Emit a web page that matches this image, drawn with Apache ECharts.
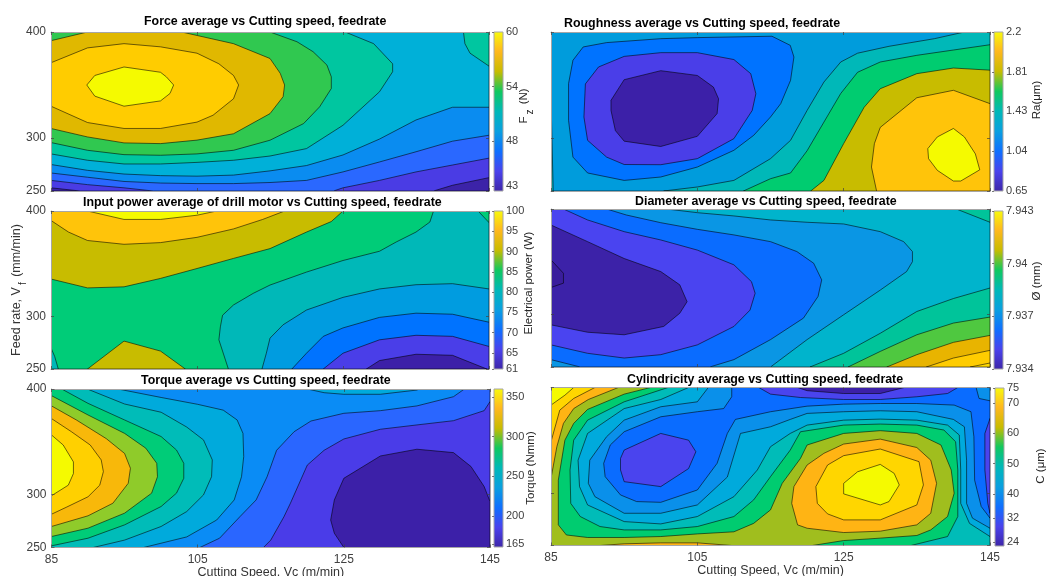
<!DOCTYPE html>
<html>
<head>
<meta charset="utf-8">
<title>Cutting speed, feedrate contours</title>
<script src="https://cdn.jsdelivr.net/npm/echarts@6/dist/echarts.min.js"></script>
<style>
  html, body { margin: 0; padding: 0; background: #fff; }
  #main { width: 1046px; height: 576px; }
</style>
</head>
<body>
<div id="main"></div>
<script>
// every contour is [band index, [[cutting speed, feed rate], ...]], painted in order
var speed_ticks = [85, 105, 125, 145];
var feed_ticks = [250, 300, 400];

var force_ticks = [43, 48, 54, 60];
var force_range = [42.5, 60];
var force_contours = [
  [0, [[85,250],[145,250],[145,400],[85,400]]],
  [1, [[85,253],[89,250],[137.4,250],[140,255.4],[145,262.6],[145,400],[85,400]]],
  [2, [[85,260],[90,256],[95,253],[99,250],[123.7,250],[125,253],[130,260],[135,268],[140,274.5],[145,281],[145,400],[85,400]]],
  [3, [[85,267],[90,263],[95,259],[100,257.5],[105,257],[110,257],[115,258],[120,260],[125,268],[130,277.4],[135,287],[140,297],[145,302.6],[145,400],[85,400]]],
  [4, [[85,275],[90,269.5],[95,266],[100,264.5],[105,264],[110,265],[115,269],[120,274],[125,284],[130,299],[135,317],[140,329],[145,329],[145,400],[85,400]]],
  [5, [[85,285],[90,279],[95,275.5],[100,275.5],[105,277],[110,279],[115,283],[120,290],[125,312],[130,343.6],[131.8,362.5],[131.8,370],[129.2,389],[125.3,400],[85,400]]],
  [5, [[141.5,400],[141.7,389],[142.4,380],[145,367.8],[145,400]]],
  [6, [[85,295.7],[90,288.4],[95,284.3],[100,283.7],[105,285],[110,288.4],[115,297.9],[119.6,313.6],[121.8,329.4],[123.4,346.7],[123.4,357.7],[122.8,368.8],[120.9,381.4],[118.7,390.8],[115,400],[85,400]]],
  [7, [[85,391.8],[90,400],[102.9,400],[110,389],[115,375],[116.4,361],[117,350],[116.8,339],[115,323],[110,304],[105,298],[100,294.7],[95,295.4],[90,301],[85,309]]],
  [8, [[85,371],[90,385],[95,389],[100,386],[105,380],[108,370],[110,359],[110.7,350],[110,337],[107.2,321.5],[105,315],[100,309],[95,309],[90,314.6],[85,330]]],
  [9, [[89.9,350],[91,359],[95,367],[100,362],[100.8,357.7],[101.8,350],[101.3,342],[100,335],[95,330],[91,339.5]]]
];

var rough_ticks = [0.65, 1.04, 1.43, 1.81, 2.2];
var rough_range = [0.65, 2.2];
var rough_contours = [
  [3, [[85,250],[145,250],[145,400],[85,400]]],
  [4, [[85,337],[85.3,250],[85,250]]],
  [2, [[115.2,396],[117.7,387.4],[118.2,376.4],[117.74,354.4],[116.4,332.4],[115,319.8],[112.7,302.5],[110,288.4],[105,272.6],[100,263.2],[95,260],[90,267],[88,282],[87.4,316.7],[87.4,351.3],[88,373.3],[89.4,385.9],[92.6,390],[100,393.7],[105,394.7]]],
  [1, [[89.7,351],[91.5,367],[95,377],[100,380.5],[105,380.5],[110,374],[112.3,360.7],[113,341.8],[112.5,326],[110,299.4],[105,280.5],[100,274.8],[95,275],[92.6,282],[90,297.8],[89.5,319.8]]],
  [0, [[93.2,326],[93.2,335.5],[95,355],[100,363.5],[105,359],[107.2,348],[107.9,337],[107.7,323],[105,301.6],[100,292],[95,297],[93.8,307]]],
  [4, [[100.4,250],[105,253.8],[110,260],[115,280.5],[117.74,297.8],[120,326],[122.3,352.8],[124.6,371.7],[126.9,380],[131.2,386.5],[137.4,393.7],[141.5,400],[145,400],[145,250]]],
  [5, [[145,388],[140,383],[135,378],[130,371.7],[126.9,362],[124.6,342],[122.3,315],[120,288],[117.74,267],[115,261.6],[111.3,250],[145,250]]],
  [6, [[145,364],[140,366],[135,360.7],[130,346.5],[127.8,329],[125,294.7],[122.3,260],[120.5,250],[145,250]]],
  [7, [[145,332.4],[140,345],[135,338],[130,310],[129.2,294.7],[128.8,272.6],[129.5,250],[145,250]]],
  [8, [[140,309],[137.8,301],[136.5,290],[136.6,280.5],[137.8,269.5],[140,259.4],[141,259.4],[143.6,270],[143,285],[141.5,301]]]
];

var power_ticks = [61, 65, 70, 75, 80, 85, 90, 95, 100];
var power_range = [61, 100];
var power_contours = [
  [5, [[85,250],[145,250],[145,400],[85,400]]],
  [4, [[109.3,250],[108,277.7],[108.2,290],[108.5,301],[110,310.8],[112.7,321.8],[115,329.7],[120,342],[125,353],[130,361.8],[132.3,370.6],[135,380],[136.9,389.5],[137.4,400],[145,400],[145,250]]],
  [4, [[85,250],[85,270],[85.5,262],[86,250]]],
  [5, [[143.5,400],[145,389],[145,400]]],
  [3, [[113.9,250],[114.5,265],[115,279.3],[116.8,292],[120,306],[125,318],[130,326],[135,330],[140,331],[145,326],[145,250]]],
  [2, [[118,250],[120,265],[122.3,281],[125,289],[130,299],[135,303],[140,302],[145,294.4],[145,250]]],
  [1, [[122.3,250],[125,265],[130,277.7],[135,282],[140,281],[145,271.4],[145,250]]],
  [0, [[128.2,250],[130,258],[135,264],[140,263],[144.7,250]]],
  [6, [[85,335.4],[90,327],[95,328],[100,336],[105,345.4],[110,355],[115,364.3],[120,380],[123.4,390],[125,400],[85,400]]],
  [6, [[90,250],[95,276.5],[100,267],[103.4,250]]],
  [7, [[85,391],[87.4,380],[90,372],[95,368.4],[100,370],[105,375],[110,383],[114,392],[117,400],[85,400]]],
  [8, [[90,400],[95,392],[100,392],[105,396],[107.7,400]]]
];

var diam_ticks = [7.934, 7.937, 7.94, 7.943];
var diam_range = [7.934, 7.943];
var diam_contours = [
  [5, [[85,250],[145,250],[145,400],[85,400]]],
  [6, [[140.4,400],[145,387.4],[145,400]]],
  [4, [[100.8,400],[105,396.5],[110,393.4],[115,389.6],[120,387.4],[125,385.8],[130,378.5],[133.2,369],[134.4,359.6],[134.4,350],[133.6,340.6],[130,323],[125,299.6],[120,276],[115,250],[85,250],[85,400]]],
  [3, [[92.6,400],[95.3,394.3],[100,387],[105,380.7],[110,375.4],[115,369],[118.6,359.6],[120.9,348.5],[122,332.7],[121.5,317],[119.5,296.4],[115,276],[110,257],[106.7,250],[89,250],[85,257],[85,400]]],
  [2, [[86.7,400],[90,389.6],[95,378.5],[100,370.6],[105,361],[110,347],[112.4,331],[112.9,320],[112.2,304],[110,288.5],[105,271],[100,261.7],[95,258.5],[90,263],[85,271],[85,400]]],
  [1, [[85,384.8],[90,369],[95,353],[100,340.6],[102.6,328],[103.6,312],[102.6,301],[100.4,288.5],[95,280.6],[90,283],[85,290]]],
  [0, [[85,351.7],[86.7,339],[86.7,329.6],[85,325.5]]],
  [6, [[120.4,250],[125,263],[130,282],[135,302.7],[140,315],[145,325],[145,250]]],
  [7, [[125.6,250],[130,264.8],[135,280.6],[140,291.7],[145,297.4],[145,250]]],
  [8, [[130.9,250],[135,261.7],[140,273.4],[145,280],[145,250]]],
  [9, [[136.3,250],[140,258.5],[145,265.8],[145,250]]],
  [10, [[142.3,250],[145,253.8],[145,250]]]
];

var torque_ticks = [165, 200, 250, 300, 350];
var torque_range = [161, 360];
var torque_contours = [
  [3, [[85,250],[145,250],[145,400],[85,400]]],
  [2, [[105.3,250],[108,258.8],[110.8,279.3],[113,295],[114.5,317],[115.8,342],[118.2,359.6],[120.5,369.7],[125,377],[130,379.5],[135,384],[140,392.7],[141.5,400],[145,400],[145,250]]],
  [1, [[114,250],[115,257],[116.8,279],[117.7,292],[120,328],[122.3,342],[125,352.7],[130,361.9],[135,366],[140,370],[144.2,379.5],[145,388],[145,250]]],
  [0, [[125,250],[123.7,263.5],[123.2,276],[123.7,295],[125,315.5],[130,336.6],[135,343],[140,339.8],[142.4,326.6],[144.2,307.7],[145,293.5],[145,250]]],
  [4, [[120,400],[122.3,396.5],[125,395],[130,395],[135,399],[135.3,400]]],
  [4, [[94.1,400],[100,392],[105,385.5],[108.5,380],[110.4,370.7],[111.2,358],[111.3,336],[111,317],[110,295],[107.6,276],[103.5,260],[97.6,250],[85,250],[85,400]]],
  [5, [[89.9,400],[95,385.8],[100,378],[103.5,364],[105.8,351.8],[107,332.9],[106.9,317],[105.8,299.8],[103.5,284],[100,269.9],[95,257],[90.7,250],[85,250],[85,400]]],
  [6, [[86.4,400],[90,386.4],[95,370.7],[100,355],[102.1,342.3],[103.1,329.7],[103.1,315.5],[102.1,301.4],[100,288.8],[95,271.4],[90,258.8],[85,251.6],[85,400]]],
  [7, [[85,393.7],[90,375.4],[95,358],[97.9,344],[99.4,329.7],[99.5,317],[98.7,301.4],[95,282.5],[90,268.3],[85,260.4]]],
  [8, [[85,384],[88.4,370.7],[92.5,353],[95,339],[95.8,325],[95.5,310.8],[93.4,291.9],[90,280],[85,269.9]]],
  [9, [[85,372],[87.7,359.7],[90.3,347],[91.8,332.9],[92.1,321.8],[91.6,309],[90,298],[87,288],[85,281.5]]],
  [10, [[85,356.5],[86.6,347],[88,331],[88,320],[87.3,309],[85,299]]]
];

var cyl_ticks = [24, 32, 40, 50, 60, 70, 75];
var cyl_range = [22.8, 75];
var cyl_contours = [
  [6, [[85,250],[145,250],[145,400],[85,400]]],
  [5, [[101,400],[95,386.4],[90,369],[88.1,350],[87.6,321.7],[87.7,290],[89,277.5],[91.7,268],[95,264.8],[100,264.8],[105,268],[110,277.5],[112.7,293.3],[115,315.4],[117.7,340.6],[119.1,358],[125,364.3],[130,365.3],[135,364.3],[138.7,359.6],[140.3,348.5],[140.6,321.7],[140.6,277.5],[139.2,258.5],[134.2,250],[145,250],[145,400]]],
  [4, [[103.8,400],[100,388.6],[95,380],[90,356.4],[88.7,331],[88.9,305.9],[90,288.5],[95,272.7],[100,270.5],[105,277.5],[110,296.4],[113.2,321.7],[115,343.8],[117.7,356.4],[120,364.3],[125,369],[130,370],[135,369],[139.2,364.3],[140.8,354.9],[141,321.7],[141,290],[142.2,271],[145,258.5],[145,400]]],
  [3, [[106.5,400],[105,386.4],[100,381.7],[95,369],[92.6,353.3],[90.3,331],[90.1,309],[91,296.4],[95,280.6],[100,280.6],[105,288.5],[109.1,315],[110.9,356.4],[115,362.7],[117.7,369.7],[120,375.4],[125,377],[130,377.9],[135,377],[140,369.7],[141.5,362.7],[141.8,331],[141.8,290],[142.6,276],[145,266.4],[145,400]]],
  [2, [[109.7,400],[109.7,391.2],[108.6,380],[105,377],[100,372.2],[95,358],[93.1,345.4],[92.2,328],[92.4,315.4],[94.5,298],[96.7,291.7],[100,291],[105,302.7],[107.7,328],[109.1,356.4],[110.2,369.7],[115,377],[120,382.3],[125,384.2],[130,384.8],[135,384.8],[140.1,383.3],[142.4,377],[142.8,353.3],[142.9,312],[143.8,287],[145,276],[145,387.4],[143.5,389.6],[143.1,400]]],
  [1, [[94.5,321.7],[94.5,332.7],[95,340.6],[100,356.4],[103.8,350],[104.8,339],[103.8,323],[100,305.9],[95,310.6]]],
  [1, [[113.4,400],[115,393.7],[119.1,390.5],[125,388.6],[130,388.6],[135,391.2],[139.2,394.3],[140.6,400]]],
  [1, [[145,370.6],[144.3,356.4],[144.3,321.7],[144.7,290],[145,280.6]]],
  [0, [[118.7,400],[120,397],[125,394.3],[130,394.3],[133.3,400]]],
  [7, [[98.6,400],[95,393.7],[90,379.2],[88.1,365.9],[86.9,350],[86,312],[86,269.6],[87.1,260],[90,257.6],[95,257.6],[100,258.5],[105,261],[110,263],[112.7,271],[115,283.8],[116.6,309],[119.1,332.7],[120,345.4],[125,356.4],[130,359],[135,356.4],[138.3,345.4],[139.7,321.7],[140.1,299.6],[139.2,277.5],[136.9,264.8],[135,259.5],[130,257],[125,254.7],[120.7,250],[85,250],[85,400]]],
  [8, [[117.9,290],[118.7,269.6],[120,266.4],[125,262.3],[130,263.6],[135,269.6],[136.9,280.6],[137.7,309],[136.9,331],[135,343],[130,351],[125,346.3],[122.3,337.5],[120,326.4],[118.2,305.9]]],
  [8, [[91.7,250],[95,251.6],[100,252.5],[105,252.5],[109.7,250]]],
  [8, [[85,313.8],[85.8,343.8],[86.7,365.9],[88.1,380],[90.1,388.6],[94.2,400],[85,400]]],
  [9, [[85,348.5],[86.2,378.5],[88.1,389.6],[91,400],[85,400]]],
  [10, [[85,383.3],[86.9,392.7],[88.1,400],[85,400]]],
  [9, [[121.2,305.9],[121.4,290],[122.8,280],[125,274.3],[130,274.3],[135,288.5],[135.9,307.5],[135.3,329.6],[130,341.6],[125,335.3],[122.8,326.4]]],
  [10, [[125,309],[125,299],[130,288.5],[131.2,291.7],[132.6,307.5],[131.9,318.5],[130,327],[126.9,320]]]
];

var force_colors = ['#3c23a8', '#4a3ce4', '#2a68ff', '#0a8cf0', '#00b0d8', '#00c6a0', '#30c850', '#e0b800', '#ffcc00', '#f5fa00'];
var rough_colors = ['#3c20a8', '#4a3ee8', '#0073ff', '#009cdc', '#00b8b8', '#00cc70', '#c8bc00', '#ffc40a', '#f5fa00'];
var power_colors = ['#3c20a8', '#4a3ee8', '#0073ff', '#009ce0', '#00b8b8', '#00cc78', '#c8bc00', '#ffc40a', '#f5fa00'];
var diam_colors = ['#3a1e9c', '#3c22a8', '#4a44f0', '#0a6cff', '#0a96e4', '#00b4cc', '#00c49a', '#4fc840', '#e8b400', '#ffcc00', '#ffd800'];
var torque_colors = ['#3c20a8', '#4a3ce8', '#2a66ff', '#0a8cf5', '#00aadc', '#00bcb8', '#00cc78', '#8fcb2a', '#f8b80a', '#ffd000', '#f5fa00'];
var cyl_colors = ['#3c20a8', '#4a44ee', '#0a6cff', '#0a90ea', '#00aadc', '#00bcb8', '#00cc70', '#a0be1e', '#ffb414', '#ffd600', '#f5fa00'];
var bar_stops = ['#3e26a8', '#4a42ec', '#0f6fff', '#0a9fe0', '#00b8b8', '#10c85f', '#c8bc00', '#ffb81e', '#f8fa0d'];

var font_name = 'Liberation Sans';
var tick_color = '#404040';
var frame_color = '#a6a6a6';

var panels = [
  { title: 'Force average vs Cutting speed, feedrate', titleX: 144, titleY: 15, x: 51, y: 32, w: 438, h: 159, barX: 494, barY: 32, barH: 159,
    contours: force_contours, colors: force_colors, ticks: force_ticks, range: force_range, yLabels: true },
  { title: 'Roughness average vs Cutting speed, feedrate', titleX: 564, titleY: 17, x: 551, y: 32, w: 439, h: 159, barX: 994, barY: 32, barH: 159,
    contours: rough_contours, colors: rough_colors, ticks: rough_ticks, range: rough_range },
  { title: 'Input power average of drill motor vs Cutting speed, feedrate', titleX: 83, titleY: 196, x: 51, y: 211, w: 438, h: 158, barX: 494, barY: 211, barH: 158,
    contours: power_contours, colors: power_colors, ticks: power_ticks, range: power_range, yLabels: true },
  { title: 'Diameter average vs Cutting speed, feedrate', titleX: 635, titleY: 195, x: 551, y: 209, w: 439, h: 158, barX: 994, barY: 211, barH: 158,
    contours: diam_contours, colors: diam_colors, ticks: diam_ticks, range: diam_range },
  { title: 'Torque average vs Cutting speed, feedrate', titleX: 141, titleY: 374, x: 51.5, y: 389, w: 438.5, h: 158.5, barX: 494, barY: 389, barH: 158,
    contours: torque_contours, colors: torque_colors, ticks: torque_ticks, range: torque_range, yLabels: true, xName: true },
  { title: 'Cylindricity average vs Cutting speed, feedrate', titleX: 627, titleY: 373, x: 551, y: 387.5, w: 439, h: 158, barX: 995, barY: 388, barH: 158,
    contours: cyl_contours, colors: cyl_colors, ticks: cyl_ticks, range: cyl_range, xName: true }
];

var rotated_labels = [
  { x: 524, y: 106, text: '{a|F}{s|z}{a| (N)}' },
  { x: 1037, y: 100, text: '{a|Ra(\u03bcm)}' },
  { x: 529, y: 283, text: '{a|Electrical power (W)}' },
  { x: 1037, y: 281, text: '{a|\u00d8 (mm)}' },
  { x: 531, y: 468, text: '{a|Torque (Nmm)}' },
  { x: 1041, y: 466, text: '{a|C (\u03bcm)}' },
  { x: 17, y: 290, text: '{b|Feed rate, V}{s|f}{b| (mm/min)}' }
];

function renderContour(contours, colors) {
  return function (params, api) {
    var item = contours[params.dataIndex];
    var pts = item[1].map(function (p) { return api.coord(p); });
    return {
      type: 'polygon',
      shape: { points: pts },
      style: { fill: colors[item[0]], stroke: 'rgba(0,0,0,0.8)', lineWidth: 0.7 }
    };
  };
}

function renderBar(range) {
  return function (params, api) {
    var a = api.coord([0, range[1]]);
    var b = api.coord([1, range[0]]);
    var stops = bar_stops.map(function (c, i) {
      return { offset: 1 - i / (bar_stops.length - 1), color: c };
    });
    return {
      type: 'rect',
      shape: { x: a[0], y: a[1], width: b[0] - a[0], height: b[1] - a[1] },
      style: {
        fill: new echarts.graphic.LinearGradient(0, 0, 0, 1, stops),
        stroke: frame_color,
        lineWidth: 1
      }
    };
  };
}

var grids = [], x_axes = [], y_axes = [], series = [], titles = [];

panels.forEach(function (p) {
  var g = grids.length;
  grids.push({ left: p.x, top: p.y, width: p.w, height: p.h, outerBoundsMode: 'none' });
  grids.push({ left: p.barX, top: p.barY, width: 9, height: p.barH, outerBoundsMode: 'none' });

  var plot_x = {
    type: 'value', gridIndex: g, min: 85, max: 145, z: 10, splitLine: { show: false },
    axisLine: { onZero: false, lineStyle: { color: frame_color, width: 1 } },
    axisTick: { inside: true, length: 3, customValues: speed_ticks, lineStyle: { color: '#404040', width: 0.7 } },
    axisLabel: { show: !!p.xName, customValues: speed_ticks, color: tick_color, fontFamily: font_name, fontSize: 12, margin: 6 }
  };
  if (p.xName) {
    plot_x.name = 'Cutting Speed, Vc (m/min)';
    plot_x.nameLocation = 'middle';
    plot_x.nameGap = 17;
    plot_x.nameTextStyle = { color: '#333', fontFamily: font_name, fontSize: 12.5 };
  }
  x_axes.push(plot_x);
  x_axes.push({
    type: 'value', gridIndex: g, position: 'top', min: 85, max: 145, z: 10, splitLine: { show: false },
    axisLine: { onZero: false, lineStyle: { color: frame_color, width: 1 } },
    axisTick: { inside: true, length: 3, customValues: speed_ticks, lineStyle: { color: '#404040', width: 0.7 } },
    axisLabel: { show: false }
  });
  x_axes.push({ type: 'value', gridIndex: g + 1, min: 0, max: 1, show: false });

  y_axes.push({
    type: 'value', gridIndex: g, min: 250, max: 400, z: 10, splitLine: { show: false },
    axisLine: { onZero: false, lineStyle: { color: frame_color, width: 1 } },
    axisTick: { inside: true, length: 3, customValues: feed_ticks, lineStyle: { color: '#404040', width: 0.7 } },
    axisLabel: { show: !!p.yLabels, customValues: feed_ticks, color: tick_color, fontFamily: font_name, fontSize: 12, margin: 5 }
  });
  y_axes.push({
    type: 'value', gridIndex: g, position: 'right', min: 250, max: 400, z: 10, splitLine: { show: false },
    axisLine: { onZero: false, lineStyle: { color: frame_color, width: 1 } },
    axisTick: { inside: true, length: 3, customValues: feed_ticks, lineStyle: { color: '#404040', width: 0.7 } },
    axisLabel: { show: false }
  });
  y_axes.push({
    type: 'value', gridIndex: g + 1, position: 'right', min: p.range[0], max: p.range[1], z: 10, splitLine: { show: false },
    axisLine: { show: false },
    axisTick: { inside: true, length: 2, customValues: p.ticks, lineStyle: { color: '#404040', width: 0.7 } },
    axisLabel: {
      customValues: p.ticks, color: tick_color, fontFamily: font_name, fontSize: 11, margin: 3,
      formatter: function (v) { return String(Math.round(v * 1000) / 1000); }
    }
  });

  var first_x = x_axes.length - 3;
  var first_y = y_axes.length - 3;
  series.push({
    type: 'custom', xAxisIndex: first_x, yAxisIndex: first_y, clip: true, silent: true,
    coordinateSystem: 'cartesian2d',
    renderItem: renderContour(p.contours, p.colors),
    data: p.contours.map(function (c, i) { return [i]; }),
    encode: { x: [], y: [] },
    animation: false
  });
  series.push({
    type: 'custom', xAxisIndex: first_x + 2, yAxisIndex: first_y + 2, clip: false, silent: true,
    coordinateSystem: 'cartesian2d',
    renderItem: renderBar(p.range),
    data: [[0]],
    encode: { x: [], y: [] },
    animation: false
  });

  titles.push({
    text: p.title, left: p.titleX, top: p.titleY, padding: 0,
    textStyle: { color: '#000', fontFamily: font_name, fontSize: 12.4, fontWeight: 'bold', lineHeight: 14 }
  });
});

var rich_styles = {
  a: { fontFamily: font_name, fontSize: 11.5, fill: '#262626', color: '#262626' },
  b: { fontFamily: font_name, fontSize: 12.5, fill: '#333', color: '#333' },
  s: { fontFamily: font_name, fontSize: 10, fill: '#262626', color: '#262626', padding: [12, 2, 0, 2] }
};

var chart = echarts.init(document.getElementById('main'), null, { renderer: 'canvas' });
chart.setOption({
  animation: false,
  backgroundColor: '#fff',
  tooltip: { show: false },
  title: titles,
  grid: grids,
  xAxis: x_axes,
  yAxis: y_axes,
  series: series,
  graphic: rotated_labels.map(function (l) {
    return {
      type: 'text', x: l.x, y: l.y, rotation: Math.PI / 2,
      style: { text: l.text, rich: rich_styles, align: 'center', verticalAlign: 'middle' }
    };
  })
});
</script>
</body>
</html>
